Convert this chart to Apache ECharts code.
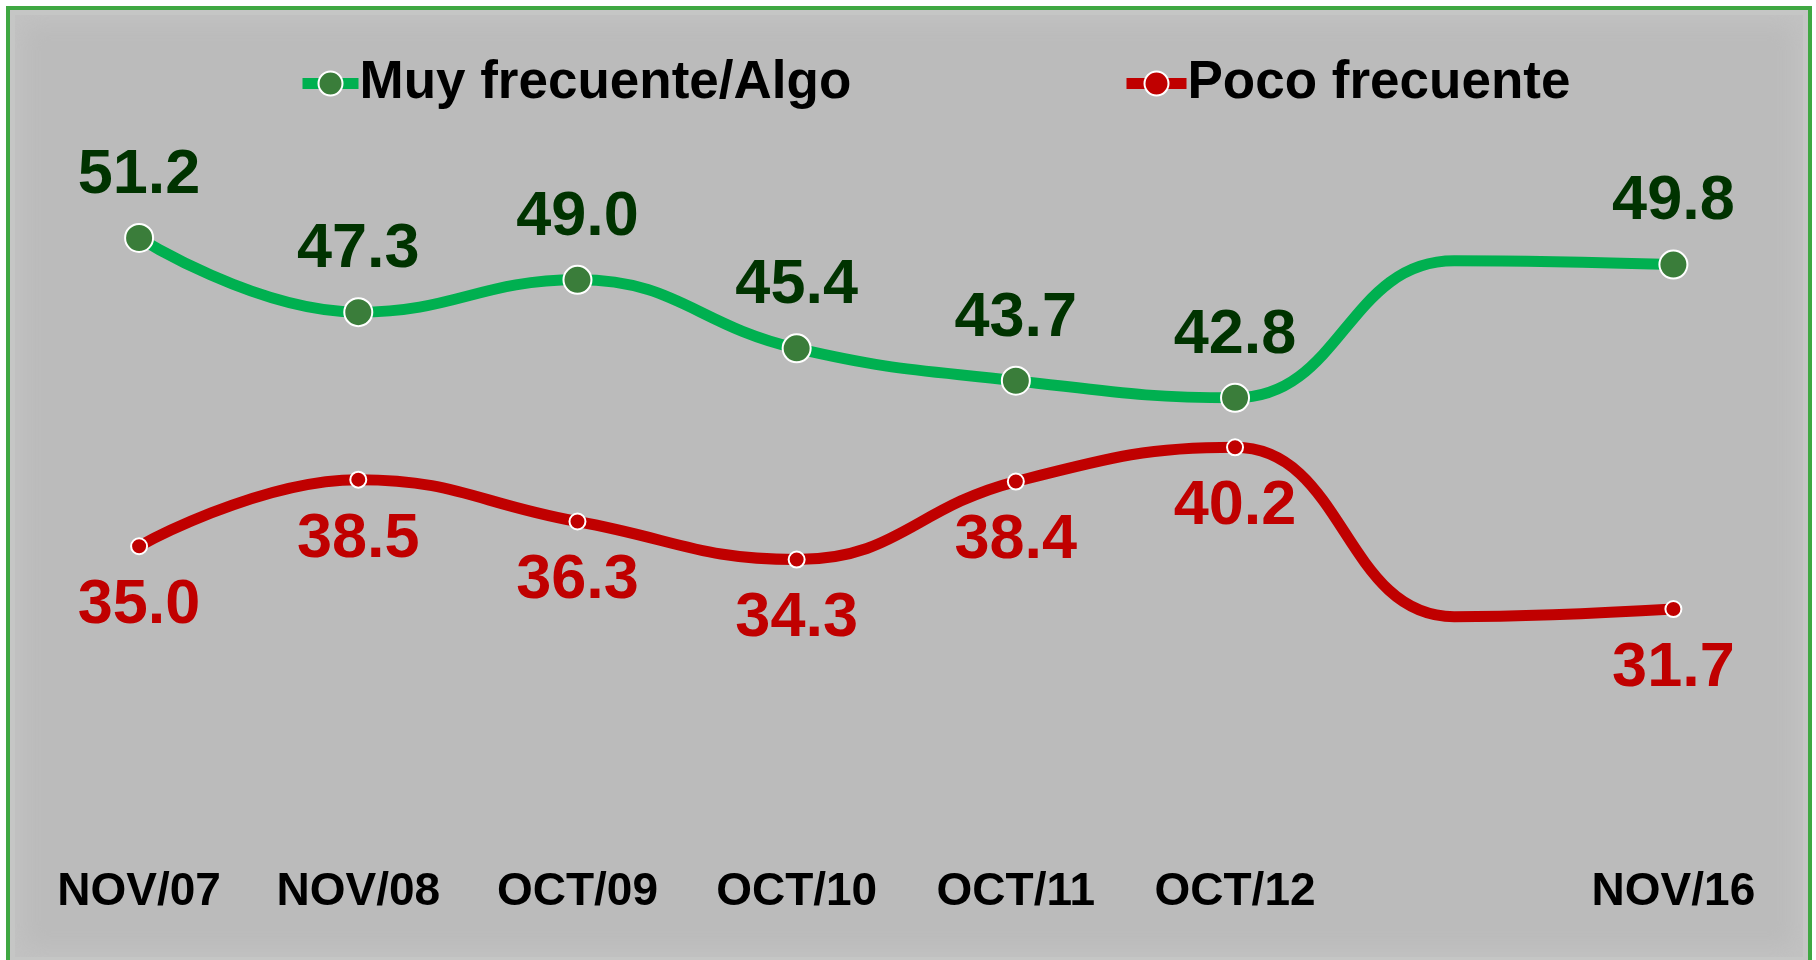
<!DOCTYPE html>
<html>
<head>
<meta charset="utf-8">
<script src="https://cdn.jsdelivr.net/npm/echarts@6/dist/echarts.min.js"></script>
<style>
  html, body { margin: 0; padding: 0; background: #ffffff; }
  #frame {
    position: absolute; left: 6px; top: 6px; width: 1806px; height: 960px;
    box-sizing: border-box; border: 4px solid #3fa842; background: #bbbbbb;
    box-shadow: inset 0 0 0 5px #c5c6c5, inset 0 0 22px 14px #c2c2c2;
  }
  #main { position: absolute; left: 0; top: 0; width: 1816px; height: 960px; }
</style>
</head>
<body>
<div id="frame"></div>
<div id="main"></div>
<script>
// categorias (la 7a no tiene etiqueta ni marcador en el original)
var categories = ["NOV/07", "NOV/08", "OCT/09", "OCT/10", "OCT/11", "OCT/12", "", "NOV/16"];
// Muy frecuente/Algo
var muyFrecuente = [51.2, 47.3, 49.0, 45.4, 43.7, 42.8, 50.0, 49.8];
// Poco frecuente
var pocoFrecuente = [35.0, 38.5, 36.3, 34.3, 38.4, 40.2, 31.3, 31.7];
// punto oculto (sin marcador ni etiqueta)
var hiddenIndex = 6;

var FONT = '"Liberation Sans", Arial, sans-serif';

function buildData(values) {
  return values.map(function (v, i) {
    if (i === hiddenIndex) {
      return { value: v, symbol: 'none', label: { show: false } };
    }
    return v;
  });
}

var chart = echarts.init(document.getElementById('main'));
chart.setOption({
  backgroundColor: 'transparent',
  animation: false,
  legend: [
    {
      left: 292, top: 52,
      itemWidth: 56, itemHeight: 30, itemGap: 0,
      data: ['Muy frecuente/Algo'],
      lineStyle: { width: 11 },
      textStyle: { fontFamily: FONT, fontWeight: 'bold', fontSize: 53, color: '#000000', padding: [0, 0, 0, -4] }
    },
    {
      left: 1116, top: 52,
      itemWidth: 60, itemHeight: 30, itemGap: 0,
      data: ['Poco frecuente'],
      lineStyle: { width: 11 },
      textStyle: { fontFamily: FONT, fontWeight: 'bold', fontSize: 53, color: '#000000', padding: [0, 0, 0, -4] }
    }
  ],
  grid: { left: 29.5, right: 33, top: 70.5, bottom: 128.3 },
  xAxis: {
    type: 'category',
    data: categories,
    boundaryGap: true,
    axisLine: { show: false },
    axisTick: { show: false },
    axisLabel: {
      interval: 0, margin: 38,
      fontFamily: FONT, fontWeight: 'bold', fontSize: 46, color: '#000000'
    }
  },
  yAxis: {
    type: 'value',
    min: 20, max: 60, interval: 10,
    show: false,
    splitLine: { show: false }
  },
  series: [
    {
      name: 'Muy frecuente/Algo',
      type: 'line',
      smooth: 0.45,
      data: buildData(muyFrecuente),
      symbol: 'circle',
      symbolSize: 28,
      lineStyle: { color: '#00b050', width: 11 },
      itemStyle: { color: '#3a7d3a', borderColor: '#ffffff', borderWidth: 2 },
      label: {
        show: true, position: 'top', distance: 16,
        fontFamily: FONT, fontWeight: 'bold', fontSize: 63, lineHeight: 63,
        color: '#003300',
        formatter: function (p) { return p.value.toFixed(1); }
      },
      z: 3
    },
    {
      name: 'Poco frecuente',
      type: 'line',
      smooth: 0.45,
      data: buildData(pocoFrecuente),
      symbol: 'circle',
      symbolSize: 16,
      lineStyle: { color: '#c00000', width: 11 },
      itemStyle: { color: '#c00000', borderColor: '#ffffff', borderWidth: 2 },
      label: {
        show: true, position: 'bottom', distance: 19,
        fontFamily: FONT, fontWeight: 'bold', fontSize: 63, lineHeight: 63,
        color: '#c00000',
        formatter: function (p) { return p.value.toFixed(1); }
      },
      z: 2
    }
  ]
});
</script>
</body>
</html>
